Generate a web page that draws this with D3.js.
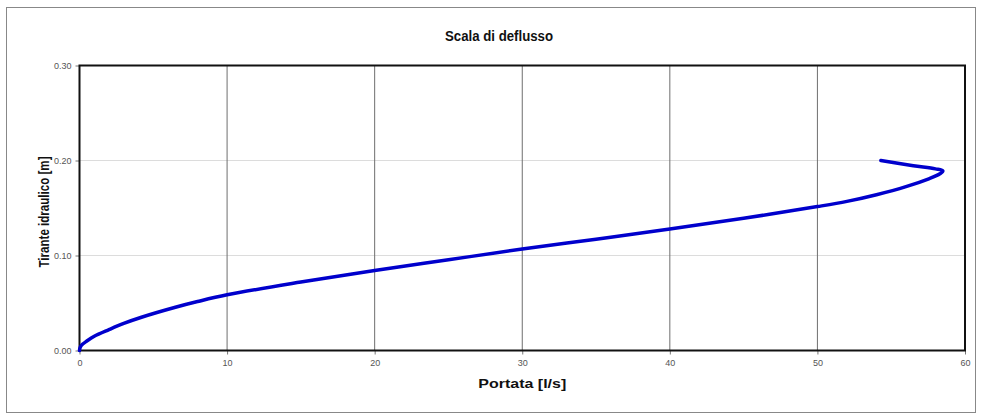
<!DOCTYPE html>
<html>
  <head>
    <title>Scala di deflusso</title>
    <script src="https://cdn.jsdelivr.net/npm/d3@7/dist/d3.min.js"></script>
    <style>
      body { margin: 0; background: #fff; }
    </style>
  </head>
  <body>
    <svg width="981" height="419" id="mainsvg"></svg>
    <script>
      // portata [l/s] e tirante [m]
      const portata = [0, 0.05, 0.2, 0.5, 1, 2, 3, 4.2, 6.5, 8, 10, 15, 20, 25, 30, 35, 40, 45, 50, 52, 54, 56, 57.5, 58.3, 58.5, 58.0, 56.5, 54.3];
      const tirante = [0, 0.0035, 0.0065, 0.0100, 0.0150, 0.0220, 0.0285, 0.0350, 0.0455, 0.0515, 0.0586, 0.0720, 0.0842, 0.0955, 0.1068, 0.1172, 0.1278, 0.1392, 0.1515, 0.1570, 0.1640, 0.1725, 0.1805, 0.1860, 0.1890, 0.1912, 0.1945, 0.2000];
      const xTicks = [0, 10, 20, 30, 40, 50, 60];
      const yTicks = [0, 0.10, 0.20, 0.30];

      const data = portata.map((q, i) => ({q: q, h: tirante[i]}));

      const svg = d3.select('#mainsvg');
      const margin = {top: 65.5, right: 16, bottom: 68.5, left: 79.5};
      const width = +svg.attr('width');
      const height = +svg.attr('height');
      const innerWidth = width - margin.left - margin.right;
      const innerHeight = height - margin.top - margin.bottom;

      // cornice esterna
      svg.append('rect')
        .attr('x', 6.5).attr('y', 7.5)
        .attr('width', 969).attr('height', 405)
        .attr('fill', 'none').attr('stroke', '#888').attr('stroke-width', 1);

      const g = svg.append('g')
        .attr('transform', `translate(${margin.left}, ${margin.top})`);

      const xScale = d3.scaleLinear().domain([0, 60]).range([0, innerWidth]);
      const yScale = d3.scaleLinear().domain([0, 0.30]).range([innerHeight, 0]);

      // griglia
      g.append('g').selectAll('line').data(yTicks.slice(1, -1)).join('line')
        .attr('x1', 0).attr('x2', innerWidth)
        .attr('y1', d => yScale(d)).attr('y2', d => yScale(d))
        .attr('stroke', '#dcdcdc').attr('stroke-width', 1);
      g.append('g').selectAll('line').data(xTicks.slice(1, -1)).join('line')
        .attr('x1', d => xScale(d)).attr('x2', d => xScale(d))
        .attr('y1', 0).attr('y2', innerHeight)
        .attr('stroke', '#6e6e6e').attr('stroke-width', 1);

      const xAxis = d3.axisBottom(xScale).tickValues(xTicks).tickSize(4).tickPadding(5)
        .tickFormat(d3.format('d'));
      const yAxis = d3.axisLeft(yScale).tickValues(yTicks).tickSize(4).tickPadding(4)
        .tickFormat(d3.format('.2f'));

      const xAxisGroup = g.append('g').attr('transform', `translate(0, ${innerHeight})`).call(xAxis);
      const yAxisGroup = g.append('g').call(yAxis);
      [xAxisGroup, yAxisGroup].forEach(ax => {
        ax.select('.domain').remove();
        ax.selectAll('.tick line').attr('stroke', '#777');
        ax.selectAll('.tick text')
          .attr('font-family', 'Liberation Sans, Arial, sans-serif')
          .attr('font-size', 9).attr('fill', '#555');
      });

      // bordo dell'area del grafico
      g.append('rect')
        .attr('x', 0).attr('y', 0)
        .attr('width', innerWidth).attr('height', innerHeight)
        .attr('fill', 'none').attr('stroke', '#111').attr('stroke-width', 2);

      const line = d3.line()
        .x(d => xScale(d.q))
        .y(d => yScale(d.h))
        .curve(d3.curveCatmullRom.alpha(0.5));

      g.append('path').datum(data)
        .attr('d', line)
        .attr('fill', 'none')
        .attr('stroke', '#0000cc')
        .attr('stroke-width', 3.5)
        .attr('stroke-linecap', 'round')
        .attr('stroke-linejoin', 'round');

      // titoli
      svg.append('text').text('Scala di deflusso')
        .attr('x', 499).attr('y', 41)
        .attr('text-anchor', 'middle')
        .attr('font-family', 'Liberation Sans, Arial, sans-serif')
        .attr('font-weight', 'bold').attr('font-size', 14)
        .attr('textLength', 108).attr('lengthAdjust', 'spacingAndGlyphs')
        .attr('fill', '#111');

      svg.append('text').text('Portata [l/s]')
        .attr('x', margin.left + innerWidth / 2).attr('y', 388)
        .attr('text-anchor', 'middle')
        .attr('font-family', 'Liberation Sans, Arial, sans-serif')
        .attr('font-weight', 'bold').attr('font-size', 13.5)
        .attr('textLength', 88).attr('lengthAdjust', 'spacingAndGlyphs')
        .attr('fill', '#111');

      svg.append('text').text('Tirante idraulico [m]')
        .attr('transform', `translate(49, ${margin.top + innerHeight / 2 + 4}) rotate(-90)`)
        .attr('text-anchor', 'middle')
        .attr('font-family', 'Liberation Sans, Arial, sans-serif')
        .attr('font-weight', 'bold').attr('font-size', 14)
        .attr('textLength', 111).attr('lengthAdjust', 'spacingAndGlyphs')
        .attr('fill', '#111');
    </script>
  </body>
</html>
